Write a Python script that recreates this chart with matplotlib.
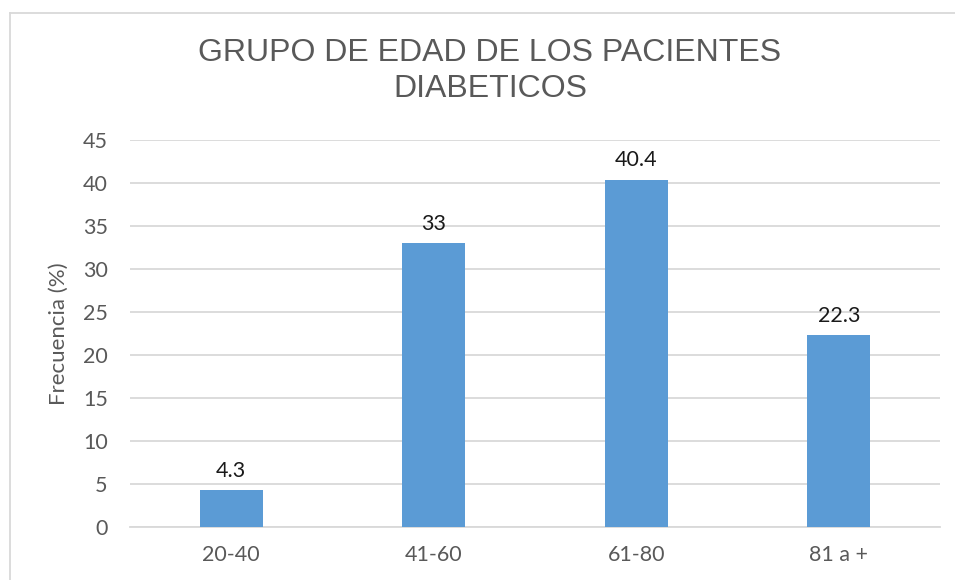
import matplotlib.pyplot as plt

# data
categorias = ["20-40", "41-60", "61-80", "81 a +"]
frecuencia = [4.3, 33, 40.4, 22.3]
etiquetas = ["4.3", "33", "40.4", "22.3"]
yticks = [0, 5, 10, 15, 20, 25, 30, 35, 40, 45]

bar_color = "#5B9BD5"
grid_color = "#D9D9D9"
text_gray = "#595959"

fig = plt.figure(figsize=(9.55, 5.8), dpi=100)
ax = fig.add_axes([130 / 955, 1 - 527 / 580, 810 / 955, 387 / 580])

x = range(len(categorias))
ax.bar(x, frecuencia, width=0.31, color=bar_color, zorder=3)

for xi, v, lab in zip(x, frecuencia, etiquetas):
    ax.text(xi, v + 1.1, lab, ha="center", va="bottom", fontsize=15.5,
            family="Lato", color="#1a1a1a")

ax.set_xlim(-0.5, len(categorias) - 0.5)
ax.set_ylim(0, 45)
ax.set_yticks(yticks)
ax.set_xticks(list(x))
ax.set_xticklabels(categorias)
ax.yaxis.grid(True, color=grid_color, linewidth=1.3, zorder=0)
for s in ["top", "right", "left"]:
    ax.spines[s].set_visible(False)
ax.spines["bottom"].set_color(grid_color)
ax.spines["bottom"].set_linewidth(1.3)
ax.tick_params(axis="both", length=0, labelsize=15.5, labelcolor=text_gray)
for lab in ax.get_xticklabels() + ax.get_yticklabels():
    lab.set_family("Lato")
ax.tick_params(axis="x", pad=13)
ax.tick_params(axis="y", pad=16)

ax.set_ylabel("Frecuencia (%)", fontsize=16, family="Lato", color=text_gray, labelpad=10)

fig.text(490 / 955, 1 - 71 / 580, "GRUPO DE EDAD DE LOS PACIENTES\nDIABETICOS",
         ha="center", va="center", fontsize=23, family="Liberation Sans",
         color=text_gray, linespacing=1.25)

# chart border (only top and left visible)
fig.add_artist(plt.Line2D([10 / 955, 10 / 955], [0, 1 - 13 / 580],
                          transform=fig.transFigure, color=grid_color, linewidth=1.3))
fig.add_artist(plt.Line2D([10 / 955, 1], [1 - 13 / 580, 1 - 13 / 580],
                          transform=fig.transFigure, color=grid_color, linewidth=1.3))

fig.savefig("out.png", dpi=100, facecolor="white")
